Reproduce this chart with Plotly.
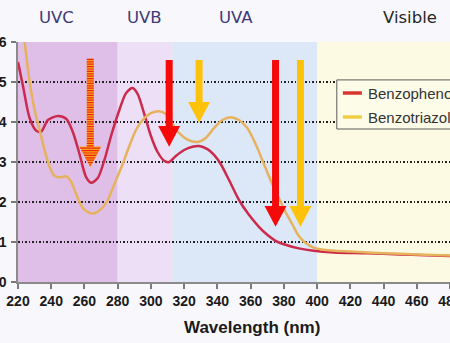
import plotly.graph_objects as go

# ---------------- data ----------------
series_names = ["Benzophenone", "Benzotriazole"]

benzophenone_nm = [220, 223, 227, 231, 234, 238, 244, 249, 253, 257, 261, 264, 268, 272, 276,
                   281, 285, 289, 292, 296, 300, 304, 308, 311, 315, 320, 325, 329, 334, 338,
                   342, 347, 353, 359, 365, 370, 375, 381, 389, 398, 410, 430, 450, 465, 480]
benzophenone_abs = [5.5, 4.9, 4.1, 3.78, 3.76, 4.05, 4.15, 4.08, 3.75, 3.2, 2.62, 2.48, 2.6, 3.05, 3.65,
                    4.3, 4.72, 4.85, 4.7, 4.2, 3.65, 3.25, 3.03, 3.0, 3.15, 3.3, 3.38, 3.4, 3.32, 3.18,
                    2.95, 2.55, 2.05, 1.68, 1.38, 1.18, 1.03, 0.93, 0.84, 0.78, 0.74, 0.72, 0.69, 0.67, 0.65]

benzotriazole_nm = [220, 224, 227, 230, 233, 236, 239, 242, 246, 249, 252, 255, 259, 263, 266,
                    270, 274, 278, 283, 287, 291, 295, 300, 305, 309, 313, 317, 322, 328, 333,
                    338, 343, 348, 353, 358, 363, 368, 373, 377, 381, 385, 389, 393, 398, 405,
                    420, 440, 460, 480]
benzotriazole_abs = [7.4, 6.0, 5.0, 4.3, 3.8, 3.3, 2.88, 2.65, 2.62, 2.64, 2.5, 2.2, 1.85, 1.73, 1.72,
                     1.82, 2.05, 2.45, 2.95, 3.4, 3.8, 4.05, 4.22, 4.27, 4.2, 3.95, 3.72, 3.56, 3.5, 3.6,
                     3.85, 4.05, 4.12, 4.05, 3.85, 3.45, 2.95, 2.45, 2.1, 1.75, 1.45, 1.15, 0.98, 0.86, 0.8,
                     0.76, 0.72, 0.69, 0.66]

band_names = ["UVC", "UVB", "UVA", "Visible"]
band_start = [220, 280, 313, 400]
band_end = [280, 313, 400, 480]
band_label_x = [243, 296, 351, 456]

x_ticks = [220, 240, 260, 280, 300, 320, 340, 360, 380, 400, 420, 440, 460, 480]
y_ticks = [0, 1, 2, 3, 4, 5, 6]

# arrows: wavelength, top value, tip value, kind
arrow_x = [263.5, 311, 329, 375, 390]
arrow_top = [5.58, 5.55, 5.55, 5.55, 5.55]
arrow_tip = [2.87, 3.38, 3.98, 1.38, 1.38]
arrow_kind = ["striped", "red", "gold", "red", "gold"]

# ---------------- styles ----------------
band_colors = ["#dfbfe8", "#ecdff6", "#dce8f7", "#fcfae3"]
band_label_colors = ["#3d3a78", "#3d3a78", "#3d3a78", "#262626"]
line_colors = ["#cc2a4c", "#e6b25c"]
legend_colors = ["#d8352e", "#f0cf48"]
arrow_colors = {"red": "#f50a0a", "gold": "#ffc20a"}
stripe_base = "#ffa41a"
stripe_red = "#ea2a10"

SHAFT_HW = 2.1     # nm
HEAD_HW = 6.6      # nm
HEAD_LEN = 0.52    # absorbance units

fig = go.Figure()

for nm, ab, name, col in zip([benzophenone_nm, benzotriazole_nm],
                             [benzophenone_abs, benzotriazole_abs],
                             series_names, line_colors):
    fig.add_trace(go.Scatter(x=nm, y=ab, name=name, mode="lines",
                             line=dict(color=col, width=2.5, shape="spline", smoothing=0.8),
                             showlegend=False, hoverinfo="skip"))

shapes = []
# spectral bands
for s, e, c in zip(band_start, band_end, band_colors):
    shapes.append(dict(type="rect", xref="x", yref="y", x0=s, x1=e, y0=0, y1=6,
                       fillcolor=c, line=dict(width=0), layer="below"))


def arrow_path(x, top, tip):
    hb = tip + HEAD_LEN
    pts = [(x - SHAFT_HW, top), (x + SHAFT_HW, top), (x + SHAFT_HW, hb), (x + HEAD_HW, hb),
           (x, tip), (x - HEAD_HW, hb), (x - SHAFT_HW, hb)]
    return "M " + " L ".join(f"{a},{b}" for a, b in pts) + " Z"


def stripes_path(x, top, tip):
    hb = tip + HEAD_LEN
    parts = []
    y = top
    step = 0.06
    th = 0.03
    while y - th > tip + 0.03:
        y0, y1 = y - th, y
        if y0 >= hb:
            hw0 = hw1 = SHAFT_HW
        else:
            hw1 = HEAD_HW * (min(y1, hb) - tip) / HEAD_LEN if y1 < hb else HEAD_HW
            hw0 = HEAD_HW * (y0 - tip) / HEAD_LEN
        parts.append(f"M {x-hw1},{y1} L {x+hw1},{y1} L {x+hw0},{y0} L {x-hw0},{y0} Z")
        y -= step
    return " ".join(parts)


for x, top, tip, kind in zip(arrow_x, arrow_top, arrow_tip, arrow_kind):
    if kind == "striped":
        shapes.append(dict(type="path", xref="x", yref="y", path=arrow_path(x, top, tip),
                           fillcolor=stripe_base, line=dict(width=0), layer="above"))
        shapes.append(dict(type="path", xref="x", yref="y", path=stripes_path(x, top, tip),
                           fillcolor=stripe_red, line=dict(width=0), layer="above"))
    else:
        shapes.append(dict(type="path", xref="x", yref="y", path=arrow_path(x, top, tip),
                           fillcolor=arrow_colors[kind], line=dict(width=0), layer="above"))

# manual legend (paper coords)
shapes.append(dict(type="rect", xref="paper", yref="paper", x0=0.738, x1=1.2, y0=0.6375, y1=0.842,
                   fillcolor="#fdfce9", line=dict(color="#5a5a5a", width=1), layer="above"))
annotations = []
for i, (name, col) in enumerate(zip(series_names, legend_colors)):
    yy = 0.7875 - i * 0.1
    shapes.append(dict(type="line", xref="paper", yref="paper", x0=0.752, x1=0.796, y0=yy, y1=yy,
                       line=dict(color=col, width=3.5), layer="above"))
    annotations.append(dict(x=0.8065, y=yy, xref="paper", yref="paper", text=name, showarrow=False,
                            xanchor="left", yanchor="middle",
                            font=dict(family="Liberation Sans", size=15, color="#333333")))

for name, xl, col in zip(band_names, band_label_x, band_label_colors):
    annotations.append(dict(x=xl, y=1.1, xref="x", yref="paper", text=name, showarrow=False,
                            xanchor="center", yanchor="middle",
                            font=dict(family="DejaVu Sans", size=16.5, color=col)))

annotations.append(dict(x=0.5417, y=-0.1875, xref="paper", yref="paper", text="Wavelength (nm)",
                        showarrow=False, xanchor="center", yanchor="middle",
                        font=dict(family="Liberation Sans", size=17, color="#1a1a1a", weight="bold")))

fig.update_layout(
    width=450, height=343,
    margin=dict(l=18, r=0, t=42, b=61, autoexpand=False),
    paper_bgcolor="#f8f7fb",
    plot_bgcolor="#fcfae3",
    shapes=shapes,
    annotations=annotations,
    showlegend=False,
)
fig.update_xaxes(range=[220, 480], tickvals=x_ticks, ticks="outside", ticklen=5, tickwidth=1.5,
                 tickcolor="#7a7a7a", showline=True, linecolor="#8a8a8a", linewidth=2,
                 showgrid=False, zeroline=False, ticklabeloverflow="allow",
                 tickfont=dict(family="Liberation Sans", size=14, color="#1a1a1a", weight="bold"))
fig.update_yaxes(range=[0, 6], tickvals=y_ticks, ticks="outside", ticklen=5, tickwidth=1.5,
                 tickcolor="#7a7a7a", showline=True, linecolor="#8a8a8a", linewidth=1.5,
                 showgrid=True, gridcolor="#222222", gridwidth=1.5, griddash="1.5px,2px",
                 zeroline=False, ticklabelstandoff=2, ticklabeloverflow="allow",
                 tickfont=dict(family="Liberation Sans", size=14, color="#1a1a1a", weight="bold"))

fig.write_html("out.html")
